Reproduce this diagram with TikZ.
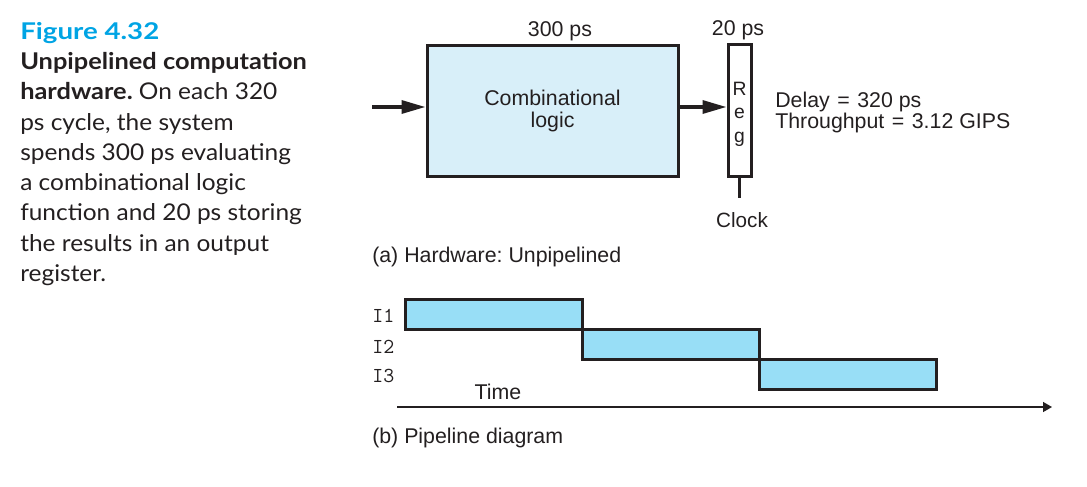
\documentclass[tikz,border=0pt]{standalone}
\usepackage{fontspec}
\setmainfont{Liberation Sans}
\newfontfamily\capfont{Lato}[FakeStretch=1.06]
\newfontfamily\capbold{Lato}[FakeStretch=1.1]
\newfontfamily\titlefont{Lato}[FakeStretch=1.2]
\usetikzlibrary{arrows.meta}
\definecolor{ink}{RGB}{35,31,32}
\definecolor{combofill}{RGB}{216,239,249}
\definecolor{barfill}{RGB}{152,222,246}
\definecolor{figblue}{RGB}{0,164,228}
\frenchspacing
\tikzset{
  lbl/.style={inner sep=0pt, text=ink, font=\fontsize{16}{16.5}\selectfont},
  boxframe/.style={draw=ink, line width=2.25pt, inner sep=0pt},
  thickarrow/.style={draw=ink, line width=2.5pt, -{Triangle[length=18pt,width=9.75pt]}},
  bar/.style={boxframe, fill=barfill, minimum width=132.75pt, minimum height=22.5pt},
  instr/.style={inner sep=0pt, text=ink, font=\ttfamily\fontsize{16}{16}\selectfont, anchor=base west},
}
\begin{document}
\begin{tikzpicture}[x=0.75pt,y=-0.75pt]
\useasboundingbox (0,0) rectangle (1087,486);
% caption
\node[inner sep=0pt, anchor=north west, align=left, text=ink,
      font=\capfont\fontsize{17.3}{22.7}\selectfont] (cap) at (20,22)
 {{\titlefont\bfseries\color{figblue}Figure 4.32}\\
  {\capbold\bfseries Unpipelined computation}\\
  {\capbold\bfseries hardware.} On each 320\\
  ps cycle, the system\\
  spends 300 ps evaluating\\
  a combinational logic\\
  function and 20 ps storing\\
  the results in an output\\
  register.};
% hardware
\node[boxframe, fill=combofill, minimum width=188.25pt, minimum height=98.25pt,
      align=center, text=ink, font=\fontsize{16}{16.5}\selectfont] (combo) at (552.5,110.5)
 {Combinational\\logic};
\node[boxframe, fill=white, minimum width=17.25pt, minimum height=99pt] (reg) at (739.5,110) {};
\node[inner sep=0pt, align=center, text=ink, font=\fontsize{14.5}{17.6}\selectfont] (regtxt) at (739.5,114) {R\\e\\g};
\coordinate (in) at (372,107);
\draw[thickarrow] (in) -- (in -| combo.west);
\draw[thickarrow] (in -| combo.east) -- (in -| reg.west);
\coordinate (clk) at (739.5,198);
\draw[draw=ink, line width=1.9pt] (reg.south) -- (clk);
\node[lbl, anchor=base, font=\fontsize{15.5}{16}\selectfont] (clock) at (742,227) {Clock};
\node[lbl, anchor=base] (t300) at (560,36) {300 ps};
\node[lbl, anchor=base] (t20) at (738,35) {20 ps};
\node[lbl, anchor=west, align=left, font=\fontsize{16}{15.75}\selectfont] (delay) at (775,112.5)
 {Delay\hspace{1.2pt} = \hspace{1.2pt}320 ps\\Throughput\hspace{1.2pt} = \hspace{1.2pt}3.12 GIPS};
\node[lbl, anchor=base west] (capa) at (372,262) {(a) Hardware: Unpipelined};
% pipeline
\node[bar] (b1) at (493.5,314) {};
\node[bar] (b2) at (670.5,344) {};
\node[bar] (b3) at (847.5,374) {};
\node[instr] (i1) at (372,322) {I1};
\node[instr] (i2) at (372,353) {I2};
\node[instr] (i3) at (372,382) {I3};
\coordinate (t0) at (397,407);
\coordinate (t1) at (1052,407);
\draw[draw=ink, line width=1.1pt, -{Triangle[length=6.75pt,width=7.5pt]}] (t0) -- (t1);
\node[lbl, anchor=base] (time) at (498,399) {Time};
\node[lbl, anchor=base west] (capb) at (372,443) {(b) Pipeline diagram};
\end{tikzpicture}
\end{document}
